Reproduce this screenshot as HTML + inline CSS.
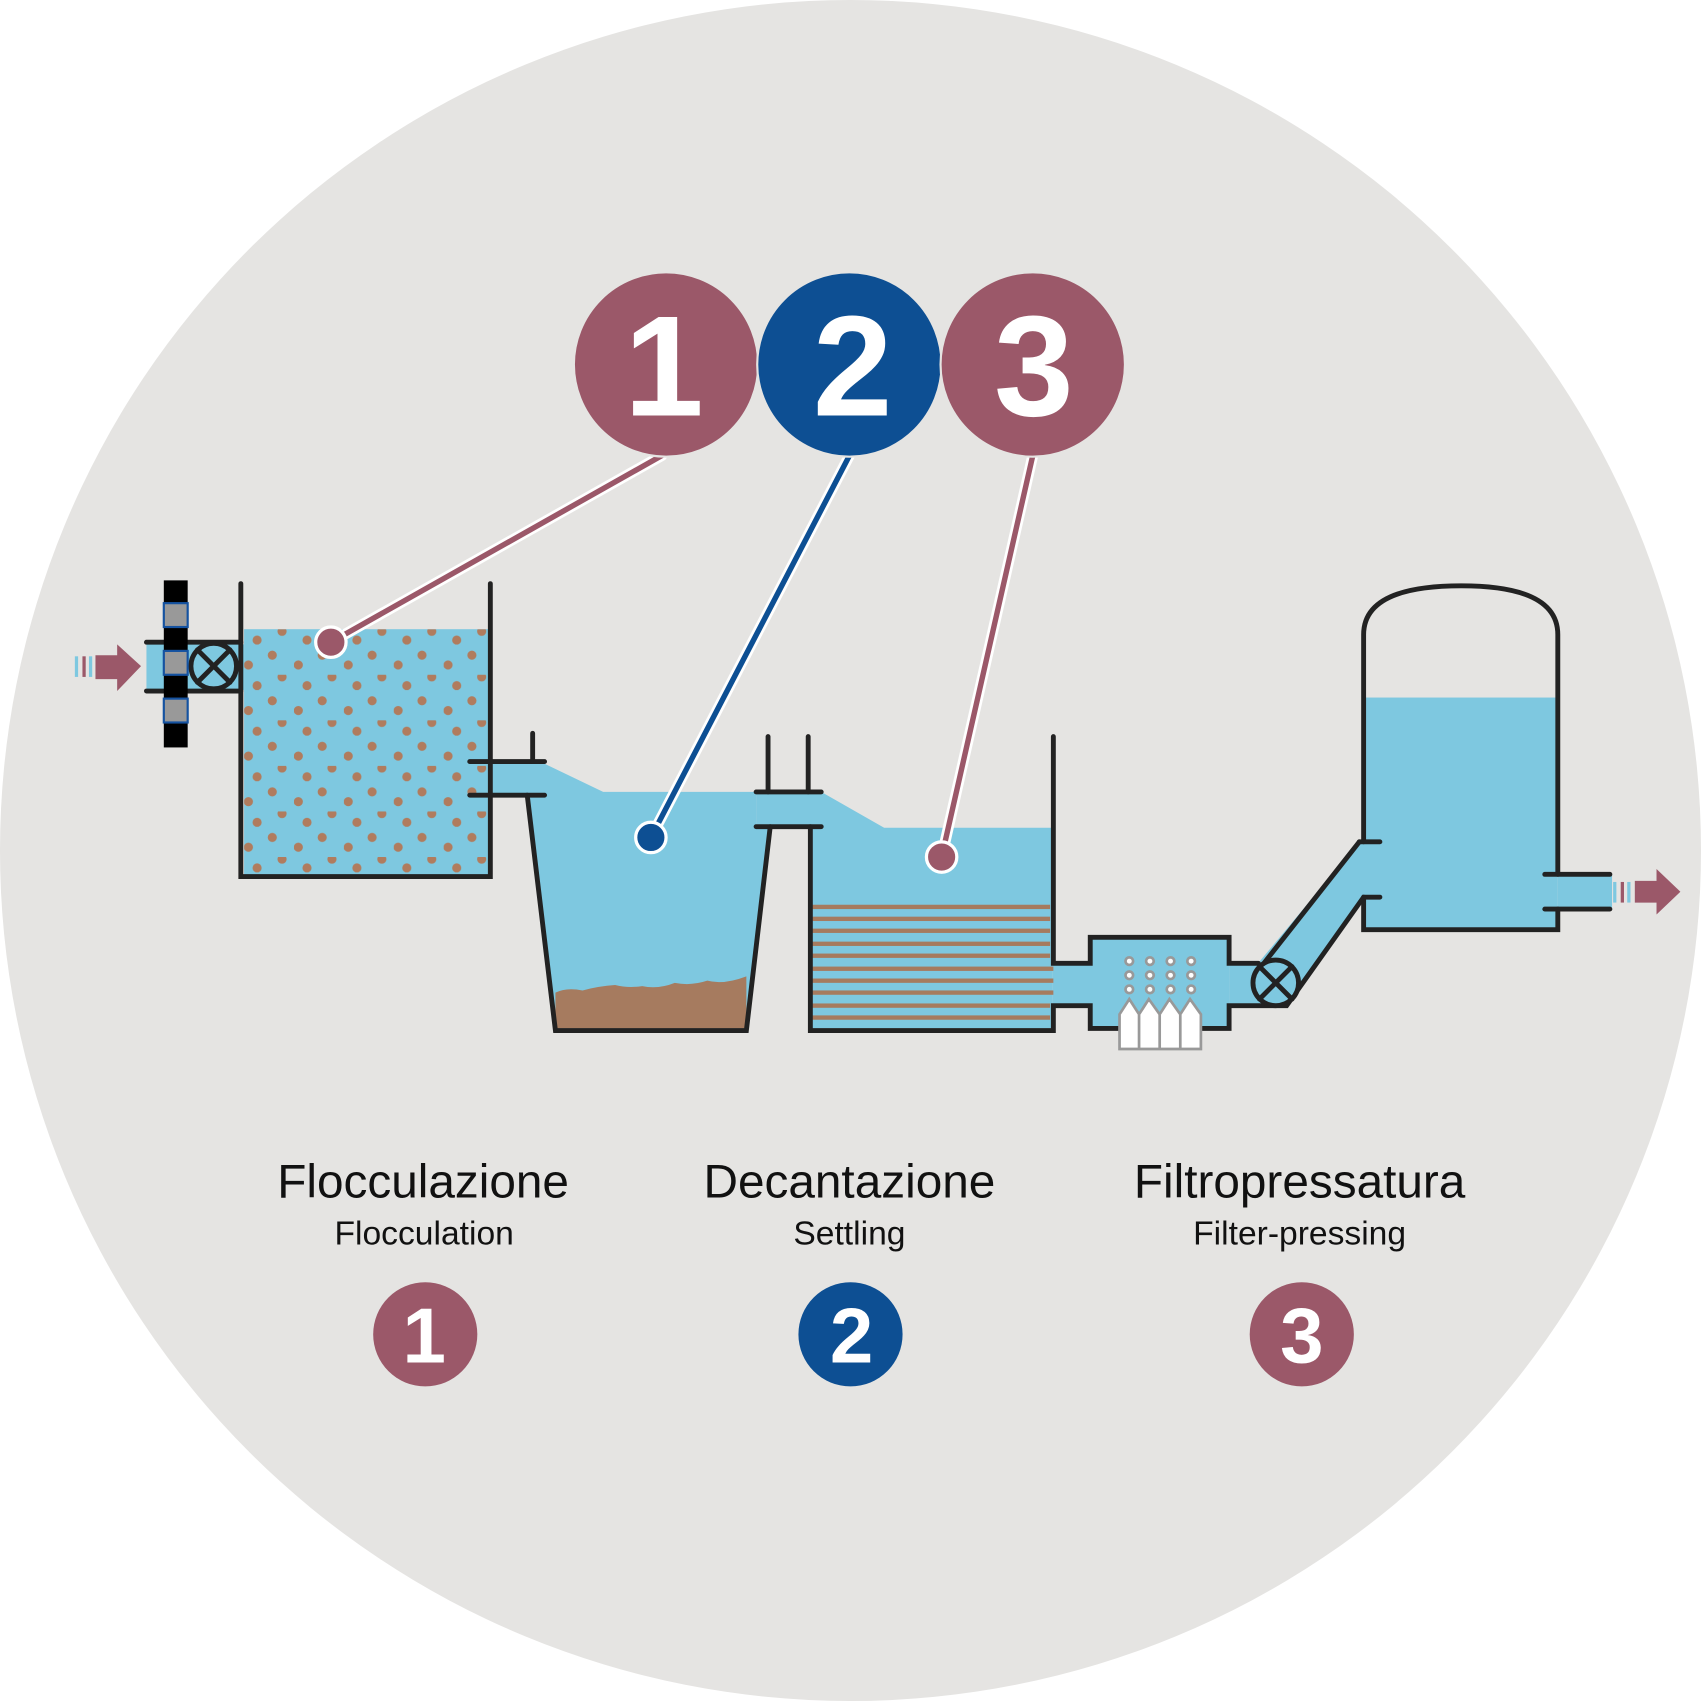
<!DOCTYPE html>
<html><head><meta charset="utf-8"><style>
html,body{margin:0;padding:0;background:#fff;}
svg{display:block;}
text{font-family:"Liberation Sans",sans-serif;}
</style></head><body>
<svg width="1701" height="1701" viewBox="0 0 1568 1568" xmlns="http://www.w3.org/2000/svg">
<defs>
<pattern id="dots" x="225" y="580" width="46" height="42" patternUnits="userSpaceOnUse">
<circle cx="12" cy="10" r="4.2" fill="#b07c5e"/>
<circle cx="35" cy="2" r="4.2" fill="#b07c5e"/>
<circle cx="26" cy="24" r="4.2" fill="#b07c5e"/>
<circle cx="4" cy="33" r="4.2" fill="#b07c5e"/>
</pattern>
</defs>
<circle cx="784" cy="784" r="784" fill="#e5e4e2"/>

<g fill="#7ec8e0">
<rect x="225" y="580" width="226" height="228"/>
<rect x="225" y="580" width="226" height="228" fill="url(#dots)"/>
<rect x="135" y="594" width="90" height="42"/>
<polygon points="451,704 502,704 556,730 697,730 697,763 710,763 688,948 512,948 486,733 451,733"/>
<polygon points="697,730 757,730 815,763 970,763 970,948 747,948 747,763 697,763"/>
<rect x="970" y="888" width="36" height="40"/>
<rect x="1005" y="864" width="128" height="84"/>
<rect x="1133" y="888" width="45" height="40"/>
<polygon points="1158,890 1253,776 1258,776 1258,827 1186,927 1158,927"/>
<rect x="1257" y="643" width="179" height="214"/>
<rect x="1436" y="807" width="50" height="31"/>
</g>
<path d="M512,915 q10,-5 25,-2 q15,-4 30,-5 q12,3 25,1 q15,3 30,-3 q15,3 30,-2 q15,4 36,-4 L688,948 L512,948 Z" fill="#a67b5f"/>
<g fill="#a67b5f">
<rect x="749" y="834" width="219" height="4"/><rect x="749" y="845" width="219" height="4"/><rect x="749" y="856" width="219" height="4"/><rect x="749" y="868" width="219" height="4"/><rect x="749" y="879" width="219" height="4"/><rect x="749" y="891" width="222" height="4"/><rect x="749" y="902" width="222" height="4"/><rect x="749" y="913" width="222" height="4"/><rect x="749" y="925" width="219" height="4"/><rect x="749" y="936" width="219" height="4"/>
</g>

<g fill="none" stroke="#222" stroke-width="4.5" stroke-linecap="round" stroke-linejoin="miter">
<polyline points="222,538 222,808 452,808 452,538"/>
<line x1="135" y1="592" x2="222" y2="592"/><line x1="135" y1="637" x2="222" y2="637"/>
<line x1="433" y1="702" x2="502" y2="702"/><line x1="433" y1="733" x2="502" y2="733"/>
<line x1="491" y1="676" x2="491" y2="702"/>
<polyline points="486,733 512,950 688,950 710,762"/>
<line x1="708" y1="679" x2="708" y2="730"/><line x1="745" y1="679" x2="745" y2="730"/>
<line x1="697" y1="730" x2="757" y2="730"/><line x1="697" y1="762" x2="757" y2="762"/>
<polyline points="747,762 747,950 971,950 971,927 1005,927 1005,948 1133,948 1133,927 1186,927 1257,827 1272,827"/>
<polyline points="971,679 971,888 1005,888 1005,864 1133,864 1133,888 1160,888"/>
<line x1="1165" y1="888" x2="1253" y2="776"/><line x1="1253" y1="776" x2="1272" y2="776"/>
<path d="M1257,776 L1257,585 Q1257,540 1347,540 Q1436,540 1436,585 L1436,806 M1436,838 L1436,857 L1257,857 L1257,827"/>
<line x1="1424" y1="806" x2="1484" y2="806"/><line x1="1424" y1="838" x2="1484" y2="838"/>
<circle cx="197" cy="614" r="21" fill="#7ec8e0"/><line x1="182" y1="599" x2="212" y2="629"/><line x1="212" y1="599" x2="182" y2="629"/>
<circle cx="1176" cy="906" r="21" fill="#7ec8e0"/><line x1="1161" y1="891" x2="1191" y2="921"/><line x1="1191" y1="891" x2="1161" y2="921"/>
</g>
<rect x="151" y="535" width="22" height="154" fill="#000"/>
<g fill="#999" stroke="#1552a0" stroke-width="2"><rect x="151" y="556" width="22" height="22"/><rect x="151" y="600" width="22" height="22"/><rect x="151" y="644" width="22" height="22"/></g>

<g fill="#fff" stroke="#999" stroke-width="2.5">
<circle cx="1041" cy="886" r="3.5"/><circle cx="1060" cy="886" r="3.5"/><circle cx="1079" cy="886" r="3.5"/><circle cx="1098" cy="886" r="3.5"/>
<circle cx="1041" cy="899" r="3.5"/><circle cx="1060" cy="899" r="3.5"/><circle cx="1079" cy="899" r="3.5"/><circle cx="1098" cy="899" r="3.5"/>
<circle cx="1041" cy="912" r="3.5"/><circle cx="1060" cy="912" r="3.5"/><circle cx="1079" cy="912" r="3.5"/><circle cx="1098" cy="912" r="3.5"/>
<path d="M1032,935 l9,-14 l9,14 v32 h-18 Z M1050,935 l9,-14 l10,14 v32 h-19 Z M1069,935 l9,-14 l10,14 v32 h-19 Z M1088,935 l9,-14 l10,14 v32 h-19 Z"/>
</g>

<g fill="#9b5869"><polygon points="88,604 108,604 108,594 130,614 108,637 108,626 88,626"/>
<polygon points="1507,812 1527,812 1527,801 1549,822 1527,843 1527,832 1507,832"/>
<rect x="76" y="605" width="3" height="19"/><rect x="1494" y="813" width="3" height="19"/></g>
<g fill="#7ec8e0"><rect x="69" y="605" width="3" height="19"/><rect x="82" y="605" width="3" height="19"/><rect x="1487" y="813" width="3" height="19"/><rect x="1500" y="813" width="3" height="19"/></g>

<g stroke-linecap="round">
<line x1="610" y1="420" x2="305" y2="592" stroke="#fff" stroke-width="10"/>
<line x1="610" y1="420" x2="305" y2="592" stroke="#9b5869" stroke-width="5"/>
<line x1="783" y1="420" x2="600" y2="772" stroke="#fff" stroke-width="10"/>
<line x1="783" y1="420" x2="600" y2="772" stroke="#0d4f93" stroke-width="5"/>
<line x1="952" y1="420" x2="868" y2="790" stroke="#fff" stroke-width="10"/>
<line x1="952" y1="420" x2="868" y2="790" stroke="#9b5869" stroke-width="5"/>
</g>
<circle cx="305" cy="592" r="14" fill="#9b5869" stroke="#fff" stroke-width="3"/>
<circle cx="600" cy="772" r="14" fill="#0d4f93" stroke="#fff" stroke-width="3"/>
<circle cx="868" cy="790" r="14" fill="#9b5869" stroke="#fff" stroke-width="3"/>

<circle cx="614" cy="336" r="85" fill="#9b5869" stroke="#e5e4e2" stroke-width="2"/>
<circle cx="783" cy="336" r="85" fill="#0d4f93" stroke="#e5e4e2" stroke-width="2"/>
<circle cx="952" cy="336" r="85" fill="#9b5869" stroke="#e5e4e2" stroke-width="2"/>
<g fill="#fff" font-weight="bold" font-size="132" text-anchor="middle">
<text x="612" y="383">1</text><text x="786" y="383">2</text><text x="953" y="383">3</text>
</g>

<g fill="#111" text-anchor="middle">
<text x="390" y="1104" font-size="44">Flocculazione</text>
<text x="391" y="1147" font-size="31">Flocculation</text>
<text x="783" y="1104" font-size="44">Decantazione</text>
<text x="783" y="1147" font-size="31">Settling</text>
<text x="1198" y="1104" font-size="44">Filtropressatura</text>
<text x="1198" y="1147" font-size="31">Filter-pressing</text>
</g>
<circle cx="392" cy="1230" r="48" fill="#9b5869"/>
<circle cx="784" cy="1230" r="48" fill="#0d4f93"/>
<circle cx="1200" cy="1230" r="48" fill="#9b5869"/>
<g fill="#fff" font-weight="bold" font-size="72" text-anchor="middle">
<text x="391" y="1256">1</text><text x="785" y="1256">2</text><text x="1200" y="1256">3</text>
</g>
</svg>
</body></html>
